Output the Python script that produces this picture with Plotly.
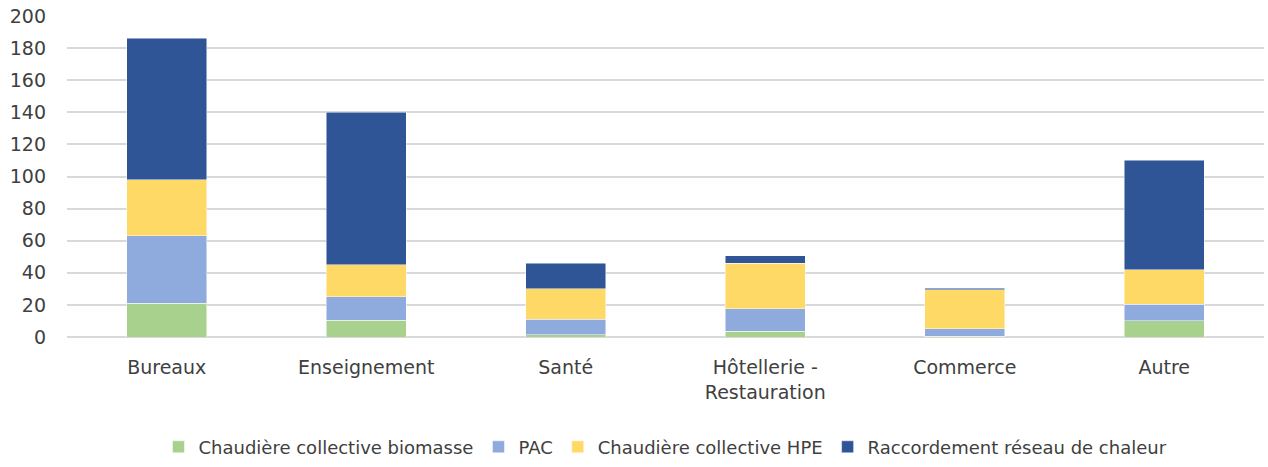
import plotly.graph_objects as go

categories = ["Bureaux", "Enseignement", "Santé", "Hôtellerie -<br>Restauration", "Commerce", "Autre"]
biomasse = [21, 10.5, 1.5, 3.5, 0.5, 10]
pac = [42, 14.5, 9.5, 14, 4.5, 10.5]
hpe = [35, 20, 19, 28.5, 24.5, 21.5]
reseau = [88, 95, 16, 4.5, 1, 68]

series = [
    ("Chaudière collective biomasse", biomasse, "#A9D18E"),
    ("PAC", pac, "#8FAADC"),
    ("Chaudière collective HPE", hpe, "#FFD966"),
    ("Raccordement réseau de chaleur", reseau, "#2F5597"),
]

fig = go.Figure()
for name, vals, col in series:
    fig.add_trace(go.Bar(
        name=name, x=categories, y=vals,
        marker=dict(color=col, line=dict(color="rgba(255,255,255,0.6)", width=0.8)),
    ))

font = "DejaVu Sans"
fig.update_layout(
    barmode="stack",
    bargap=0.6,
    width=1268, height=467,
    margin=dict(l=67, r=4, t=16, b=130, autoexpand=False),
    plot_bgcolor="white", paper_bgcolor="white",
    font=dict(family=font, size=18, color="#404040"),
    legend=dict(orientation="h", x=0.5, xanchor="center", y=-0.343, yanchor="middle",
                font=dict(size=18, color="#404040"), itemwidth=30, traceorder="normal"),
    showlegend=True,
)
fig.update_yaxes(range=[0, 200], tickvals=list(range(0, 201, 20)), showgrid=True,
                 gridcolor="#d9d9d9", gridwidth=1.5,
                 zeroline=True, zerolinecolor="#d9d9d9", zerolinewidth=1.5, automargin=False,
                 ticks="", ticklabelstandoff=20,
                 tickfont=dict(size=19, color="#404040"))
fig.update_xaxes(showline=False, ticks="", automargin=False, ticklabelstandoff=17,
                 tickfont=dict(size=19, color="#404040"))

fig.write_html("out.html", config={"displayModeBar": False},
               post_script="document.body.style.margin='0';document.body.style.overflow='hidden';")
